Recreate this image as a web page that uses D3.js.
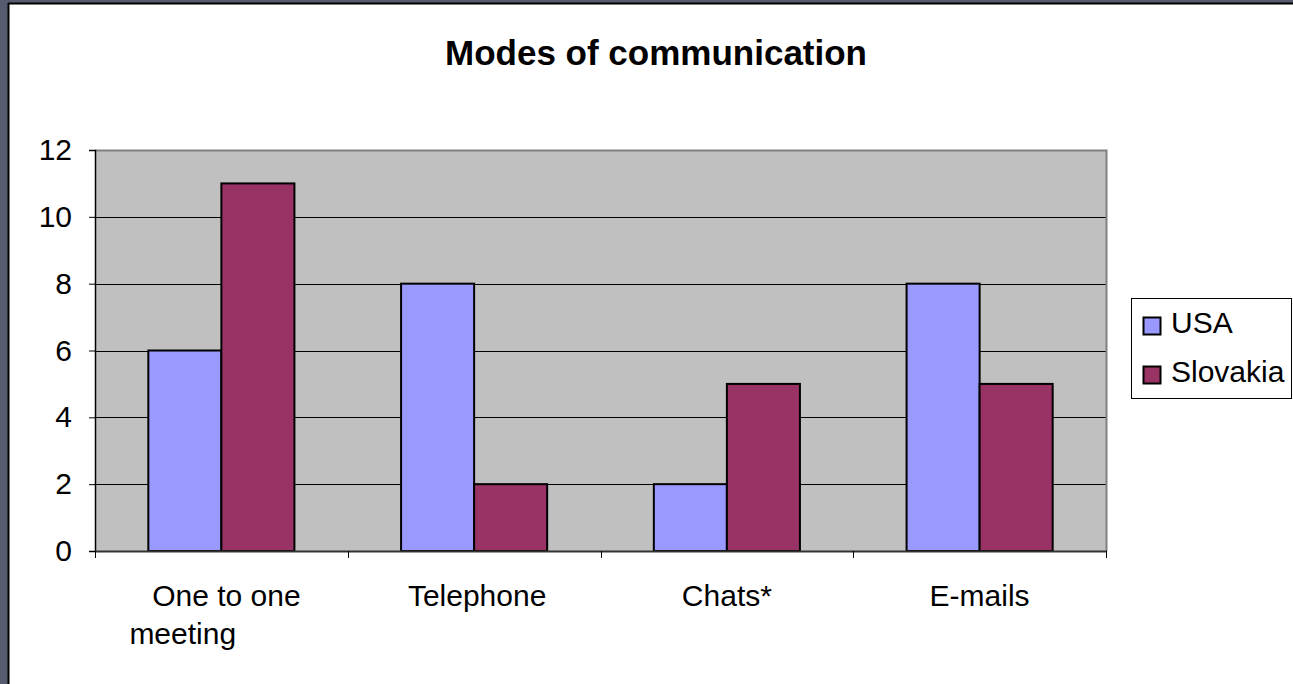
<!DOCTYPE html>
<html>
<head>
<meta charset="utf-8">
<script src="https://cdn.jsdelivr.net/npm/d3@7/dist/d3.min.js"></script>
<style>
  html, body { margin: 0; padding: 0; background: #575b6f; }
  svg { display: block; }
  text { font-family: "Liberation Sans", Arial, sans-serif; fill: #000; }
</style>
</head>
<body>
<script>
// Chart data
const categories = ["One to one meeting", "Telephone", "Chats*", "E-mails"];
const seriesNames = ["USA", "Slovakia"];
const usaValues = [6, 8, 2, 8];
const slovakiaValues = [11, 2, 5, 5];
const yTicks = [0, 2, 4, 6, 8, 10, 12];
const seriesColors = ["#9999ff", "#993366"];

const W = 1293, H = 684;
const svg = d3.select("body").append("svg").attr("width", W).attr("height", H);

// Slide frame: dark strips at left/top, white chart panel
svg.append("rect").attr("x", 0).attr("y", 0).attr("width", W).attr("height", H).attr("fill", "#575b6f");
svg.append("rect").attr("x", 9).attr("y", 4).attr("width", W - 9).attr("height", H - 4)
  .attr("fill", "#fff");
svg.append("line").attr("x1", 8.5).attr("x2", 8.5).attr("y1", 3).attr("y2", H).attr("stroke", "#000").attr("stroke-width", 2);
svg.append("line").attr("x1", 8).attr("x2", W).attr("y1", 3.5).attr("y2", 3.5).attr("stroke", "#000").attr("stroke-width", 2);

// Title
svg.append("text").attr("x", 656).attr("y", 65).attr("text-anchor", "middle")
  .style("font-size", "35px").style("font-weight", "bold").text("Modes of communication");

// Plot geometry
const plot = { left: 95, right: 1106, top: 150, bottom: 551 };

const x = d3.scaleBand().domain(categories).range([plot.left, plot.right]).paddingInner(0).paddingOuter(0);
const inner = d3.scaleBand().domain(seriesNames).range([0, x.bandwidth()]).paddingOuter(0.73).paddingInner(0);
const y = d3.scaleLinear().domain([0, 12]).range([plot.bottom, plot.top]);

// Plot area background
svg.append("rect").attr("x", plot.left).attr("y", plot.top)
  .attr("width", plot.right - plot.left).attr("height", plot.bottom - plot.top)
  .attr("fill", "#c0c0c0");

// Horizontal gridlines
svg.append("g").selectAll("line").data(yTicks.filter(t => t > 0 && t < 12)).join("line")
  .attr("x1", plot.left).attr("x2", plot.right)
  .attr("y1", d => Math.round(y(d)) + 0.5).attr("y2", d => Math.round(y(d)) + 0.5)
  .attr("stroke", "#000").attr("stroke-width", 1);

// Plot area top and right border
svg.append("path")
  .attr("d", `M${plot.left},${plot.top + 0.5}H${plot.right + 0.5}V${plot.bottom}`)
  .attr("fill", "none").attr("stroke", "#808080").attr("stroke-width", 2);

// Bars
const rows = categories.map((c, i) => ({ cat: c, vals: [usaValues[i], slovakiaValues[i]] }));
const groups = svg.append("g").selectAll("g").data(rows).join("g")
  .attr("transform", d => `translate(${x(d.cat)},0)`);
groups.selectAll("rect").data(d => d.vals.map((v, j) => ({ name: seriesNames[j], v, j }))).join("rect")
  .attr("x", d => inner(d.name))
  .attr("y", d => y(d.v))
  .attr("width", inner.bandwidth())
  .attr("height", d => y(0) - y(d.v))
  .attr("fill", d => seriesColors[d.j])
  .attr("stroke", "#000").attr("stroke-width", 2);

// Y axis
const yAxis = svg.append("g").attr("transform", `translate(${plot.left},0)`)
  .call(d3.axisLeft(y).tickValues(yTicks).tickSize(6).tickPadding(17).tickFormat(d3.format("d")));
yAxis.select(".domain").attr("stroke", "#000").attr("stroke-width", 1.5);
yAxis.selectAll(".tick line").attr("stroke", "#000");
yAxis.selectAll(".tick text").style("font-size", "30px")
  .style("font-family", "'Liberation Sans', Arial, sans-serif");

// X axis with ticks at band boundaries
const xAxis = svg.append("g").attr("transform", `translate(0,${plot.bottom})`);
xAxis.append("line").attr("x1", plot.left).attr("x2", plot.right + 1)
  .attr("y1", 0.5).attr("y2", 0.5).attr("stroke", "#333").attr("stroke-width", 2);
const boundaries = categories.map(c => x(c)).concat([plot.right]);
xAxis.selectAll("line.tk").data(boundaries).join("line").attr("class", "tk")
  .attr("x1", d => Math.round(d) + 0.5).attr("x2", d => Math.round(d) + 0.5)
  .attr("y1", 0).attr("y2", 7).attr("stroke", "#000");

// Category labels (first label wraps onto two lines)
const labelLines = [
  [{ t: "One to one", dx: 5, anchor: "middle" }, { t: "meeting", dx: -92, anchor: "start" }],
  [{ t: "Telephone", dx: 3, anchor: "middle" }],
  [{ t: "Chats*", dx: 0, anchor: "middle" }],
  [{ t: "E-mails", dx: 0, anchor: "middle" }]
];
categories.forEach((c, i) => {
  const cx = x(c) + x.bandwidth() / 2;
  labelLines[i].forEach((ln, k) => {
    svg.append("text")
      .attr("x", cx + ln.dx).attr("y", 606 + k * 38)
      .attr("text-anchor", ln.anchor)
      .style("font-size", "30px")
      .text(ln.t);
  });
});

// Legend
const legend = svg.append("g");
legend.append("rect").attr("x", 1131.5).attr("y", 298.5).attr("width", 160).attr("height", 100)
  .attr("fill", "#fff").attr("stroke", "#000").attr("stroke-width", 1);
seriesNames.forEach((n, i) => {
  const yy = 317 + i * 49;
  legend.append("rect").attr("x", 1143.5).attr("y", yy + 0.5).attr("width", 17).attr("height", 17)
    .attr("fill", seriesColors[i]).attr("stroke", "#000").attr("stroke-width", 2);
  legend.append("text").attr("x", 1171).attr("y", yy + 16).style("font-size", "30px").text(n);
});
</script>
</body>
</html>
